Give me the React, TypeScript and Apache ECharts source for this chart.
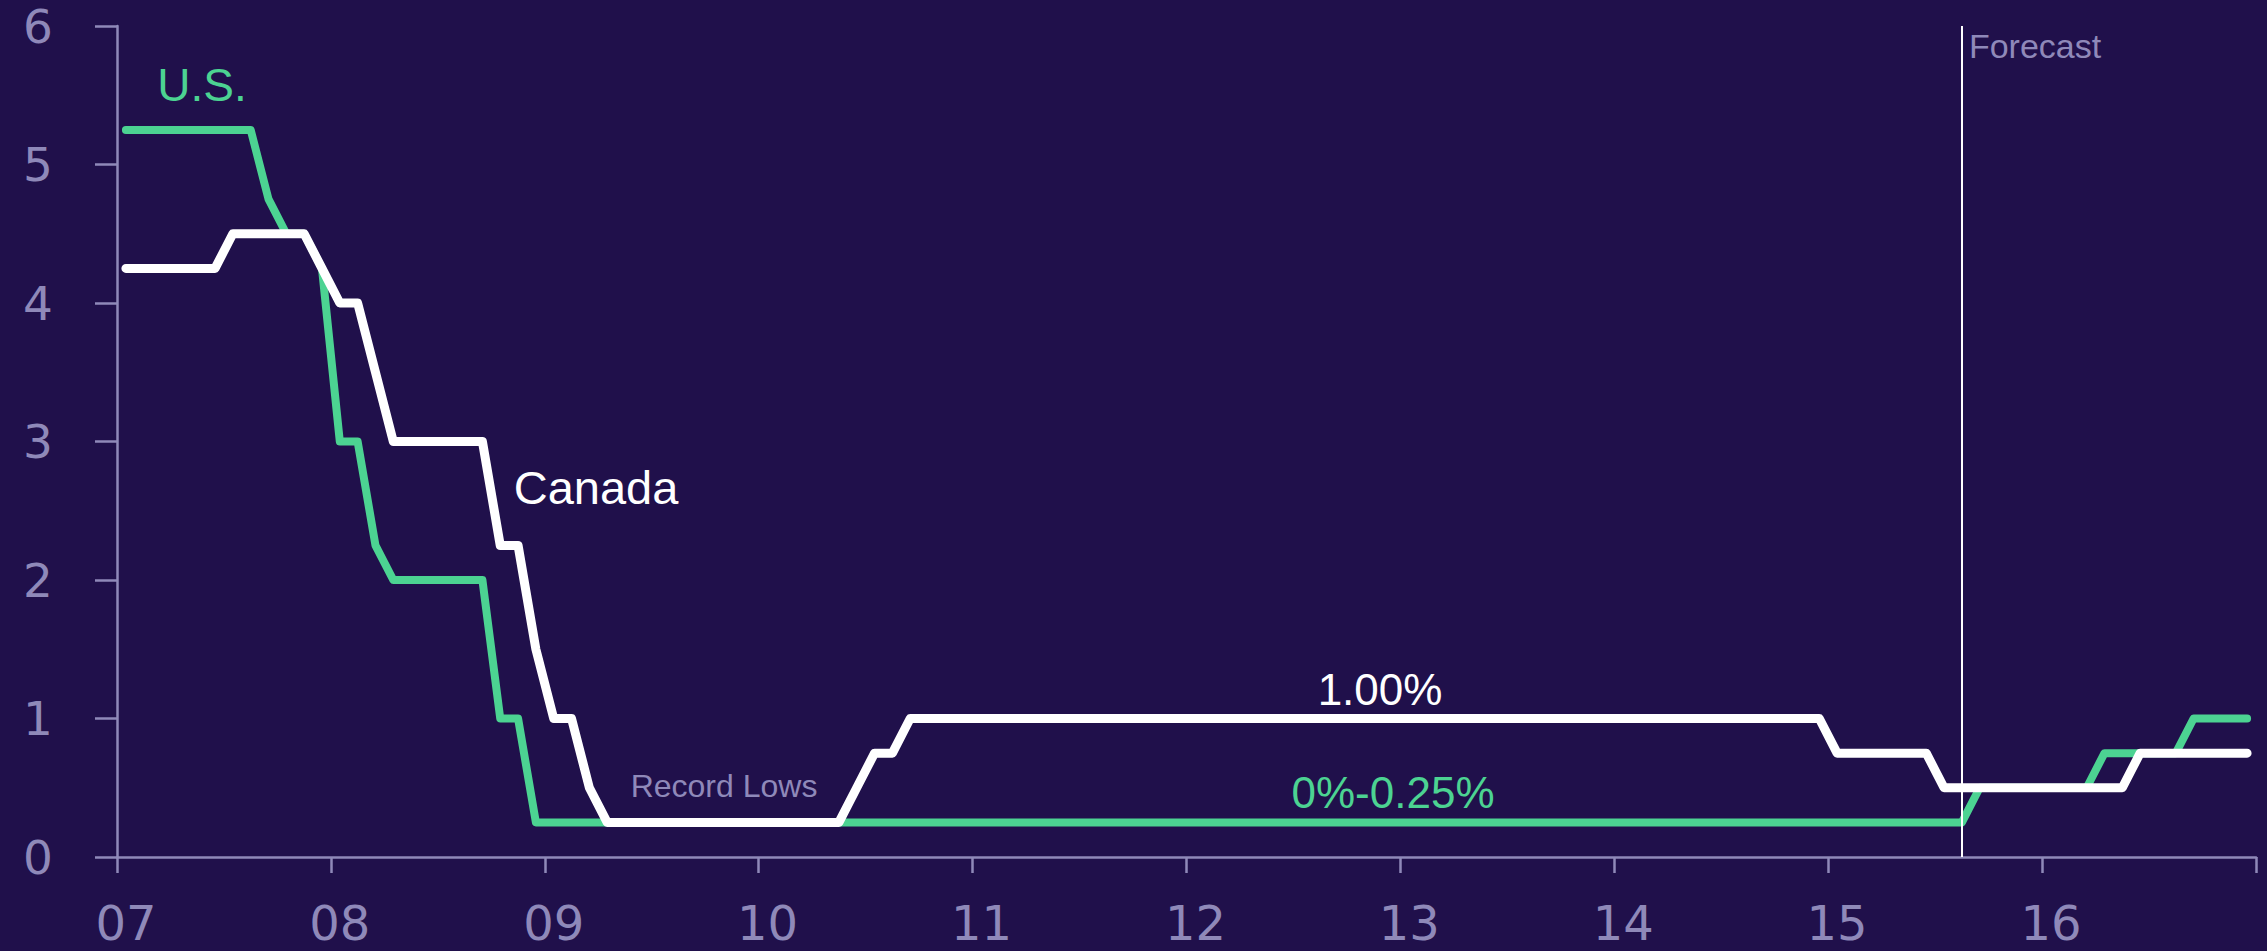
import React, { useEffect, useRef } from "react";
import * as echarts from "echarts";

const years = ["07", "08", "09", "10", "11", "12", "13", "14", "15", "16"];
const months = ["01", "02", "03", "04", "05", "06", "07", "08", "09", "10", "11", "12"];
const categories = years.flatMap((y) => months.map((m) => `${y}-${m}`));

// U.S. policy rate, monthly Jan 2007 – Dec 2016 (%)
const usRate = [
  5.25, 5.25, 5.25, 5.25, 5.25, 5.25, 5.25, 5.25, 4.75, 4.5, 4.5, 4.25,
  3.0, 3.0, 2.25, 2.0, 2.0, 2.0, 2.0, 2.0, 2.0, 1.0, 1.0, 0.25,
  0.25, 0.25, 0.25, 0.25, 0.25, 0.25, 0.25, 0.25, 0.25, 0.25, 0.25, 0.25,
  0.25, 0.25, 0.25, 0.25, 0.25, 0.25, 0.25, 0.25, 0.25, 0.25, 0.25, 0.25,
  0.25, 0.25, 0.25, 0.25, 0.25, 0.25, 0.25, 0.25, 0.25, 0.25, 0.25, 0.25,
  0.25, 0.25, 0.25, 0.25, 0.25, 0.25, 0.25, 0.25, 0.25, 0.25, 0.25, 0.25,
  0.25, 0.25, 0.25, 0.25, 0.25, 0.25, 0.25, 0.25, 0.25, 0.25, 0.25, 0.25,
  0.25, 0.25, 0.25, 0.25, 0.25, 0.25, 0.25, 0.25, 0.25, 0.25, 0.25, 0.25,
  0.25, 0.25, 0.25, 0.25, 0.25, 0.25, 0.25, 0.25, 0.5, 0.5, 0.5, 0.5,
  0.5, 0.5, 0.5, 0.75, 0.75, 0.75, 0.75, 0.75, 1.0, 1.0, 1.0, 1.0,
];

// Canada policy rate, monthly Jan 2007 – Dec 2016 (%)
const canadaRate = [
  4.25, 4.25, 4.25, 4.25, 4.25, 4.25, 4.5, 4.5, 4.5, 4.5, 4.5, 4.25,
  4.0, 4.0, 3.5, 3.0, 3.0, 3.0, 3.0, 3.0, 3.0, 2.25, 2.25, 1.5,
  1.0, 1.0, 0.5, 0.25, 0.25, 0.25, 0.25, 0.25, 0.25, 0.25, 0.25, 0.25,
  0.25, 0.25, 0.25, 0.25, 0.25, 0.5, 0.75, 0.75, 1.0, 1.0, 1.0, 1.0,
  1.0, 1.0, 1.0, 1.0, 1.0, 1.0, 1.0, 1.0, 1.0, 1.0, 1.0, 1.0,
  1.0, 1.0, 1.0, 1.0, 1.0, 1.0, 1.0, 1.0, 1.0, 1.0, 1.0, 1.0,
  1.0, 1.0, 1.0, 1.0, 1.0, 1.0, 1.0, 1.0, 1.0, 1.0, 1.0, 1.0,
  1.0, 1.0, 1.0, 1.0, 1.0, 1.0, 1.0, 1.0, 1.0, 1.0, 1.0, 1.0,
  0.75, 0.75, 0.75, 0.75, 0.75, 0.75, 0.5, 0.5, 0.5, 0.5, 0.5, 0.5,
  0.5, 0.5, 0.5, 0.5, 0.5, 0.75, 0.75, 0.75, 0.75, 0.75, 0.75, 0.75,
];

const forecastMonth = "15-08";
const yTicks = [0, 1, 2, 3, 4, 5, 6];

const BG = "#20104B";
const AXIS = "#8F89B9";
const GREEN = "#4CD392";
const WHITE = "#FFFFFF";
const SANS = "'Liberation Sans', Arial, sans-serif";
const AXIS_FONT = "'DejaVu Sans', sans-serif";

export default function App() {
  const ref = useRef<HTMLDivElement>(null);

  useEffect(() => {
    if (!ref.current) return;
    const chart = echarts.init(ref.current, undefined, { renderer: "svg" });
    const option: any = {
      animation: false,
      backgroundColor: BG,
      grid: {
        left: 117,
        right: 11,
        top: 26,
        bottom: 94,
        containLabel: false,
        outerBoundsMode: "none",
      },
      xAxis: {
        type: "category",
        data: categories,
        boundaryGap: true,
        axisLine: { show: true, lineStyle: { color: AXIS, width: 2.5 } },
        axisTick: {
          show: true,
          interval: 11,
          length: 16,
          lineStyle: { color: AXIS, width: 2.5 },
        },
        axisLabel: {
          interval: 11,
          margin: 42,
          color: AXIS,
          fontFamily: AXIS_FONT,
          fontSize: 48,
          lineHeight: 48,
          formatter: (v: string) => v.split("-")[0],
        },
        splitLine: { show: false },
      },
      yAxis: {
        type: "value",
        min: yTicks[0],
        max: yTicks[yTicks.length - 1],
        interval: 1,
        axisLine: { show: true, lineStyle: { color: AXIS, width: 2.5 } },
        axisTick: { show: true, length: 22, lineStyle: { color: AXIS, width: 2.5 } },
        axisLabel: {
          margin: 64,
          color: AXIS,
          fontFamily: AXIS_FONT,
          fontSize: 47,
          lineHeight: 40,
        },
        splitLine: { show: false },
      },
      series: [
        {
          name: "U.S.",
          type: "line",
          data: usRate,
          showSymbol: false,
          symbol: "none",
          lineStyle: { color: GREEN, width: 8, cap: "round", join: "round" },
          markLine: {
            silent: true,
            symbol: "none",
            label: { show: false },
            lineStyle: { color: WHITE, width: 2, type: "solid" },
            data: [{ xAxis: forecastMonth }],
          },
          z: 2,
        },
        {
          name: "Canada",
          type: "line",
          data: canadaRate,
          showSymbol: false,
          symbol: "none",
          lineStyle: { color: WHITE, width: 9, cap: "round", join: "round" },
          z: 3,
        },
      ],
      graphic: [
        {
          type: "text",
          x: 202,
          y: 85,
          style: {
            text: "U.S.",
            fill: GREEN,
            font: `46px ${SANS}`,
            align: "center",
            verticalAlign: "middle",
          },
        },
        {
          type: "text",
          x: 596,
          y: 487,
          style: {
            text: "Canada",
            fill: WHITE,
            font: `47px ${SANS}`,
            align: "center",
            verticalAlign: "middle",
          },
        },
        {
          type: "text",
          x: 1380,
          y: 689,
          style: {
            text: "1.00%",
            fill: WHITE,
            font: `44px ${SANS}`,
            align: "center",
            verticalAlign: "middle",
          },
        },
        {
          type: "text",
          x: 1393,
          y: 792,
          style: {
            text: "0%-0.25%",
            fill: GREEN,
            font: `44px ${SANS}`,
            align: "center",
            verticalAlign: "middle",
          },
        },
        {
          type: "text",
          x: 724,
          y: 786,
          style: {
            text: "Record Lows",
            fill: AXIS,
            font: `32px ${SANS}`,
            align: "center",
            verticalAlign: "middle",
          },
        },
        {
          type: "text",
          x: 2035,
          y: 46,
          style: {
            text: "Forecast",
            fill: AXIS,
            font: `34px ${SANS}`,
            align: "center",
            verticalAlign: "middle",
          },
        },
      ],
    };
    chart.setOption(option);
    return () => chart.dispose();
  }, []);

  return (
    <div
      ref={ref}
      style={{
        position: "fixed",
        left: 0,
        top: 0,
        width: 2267,
        height: 951,
        background: BG,
      }}
    />
  );
}
